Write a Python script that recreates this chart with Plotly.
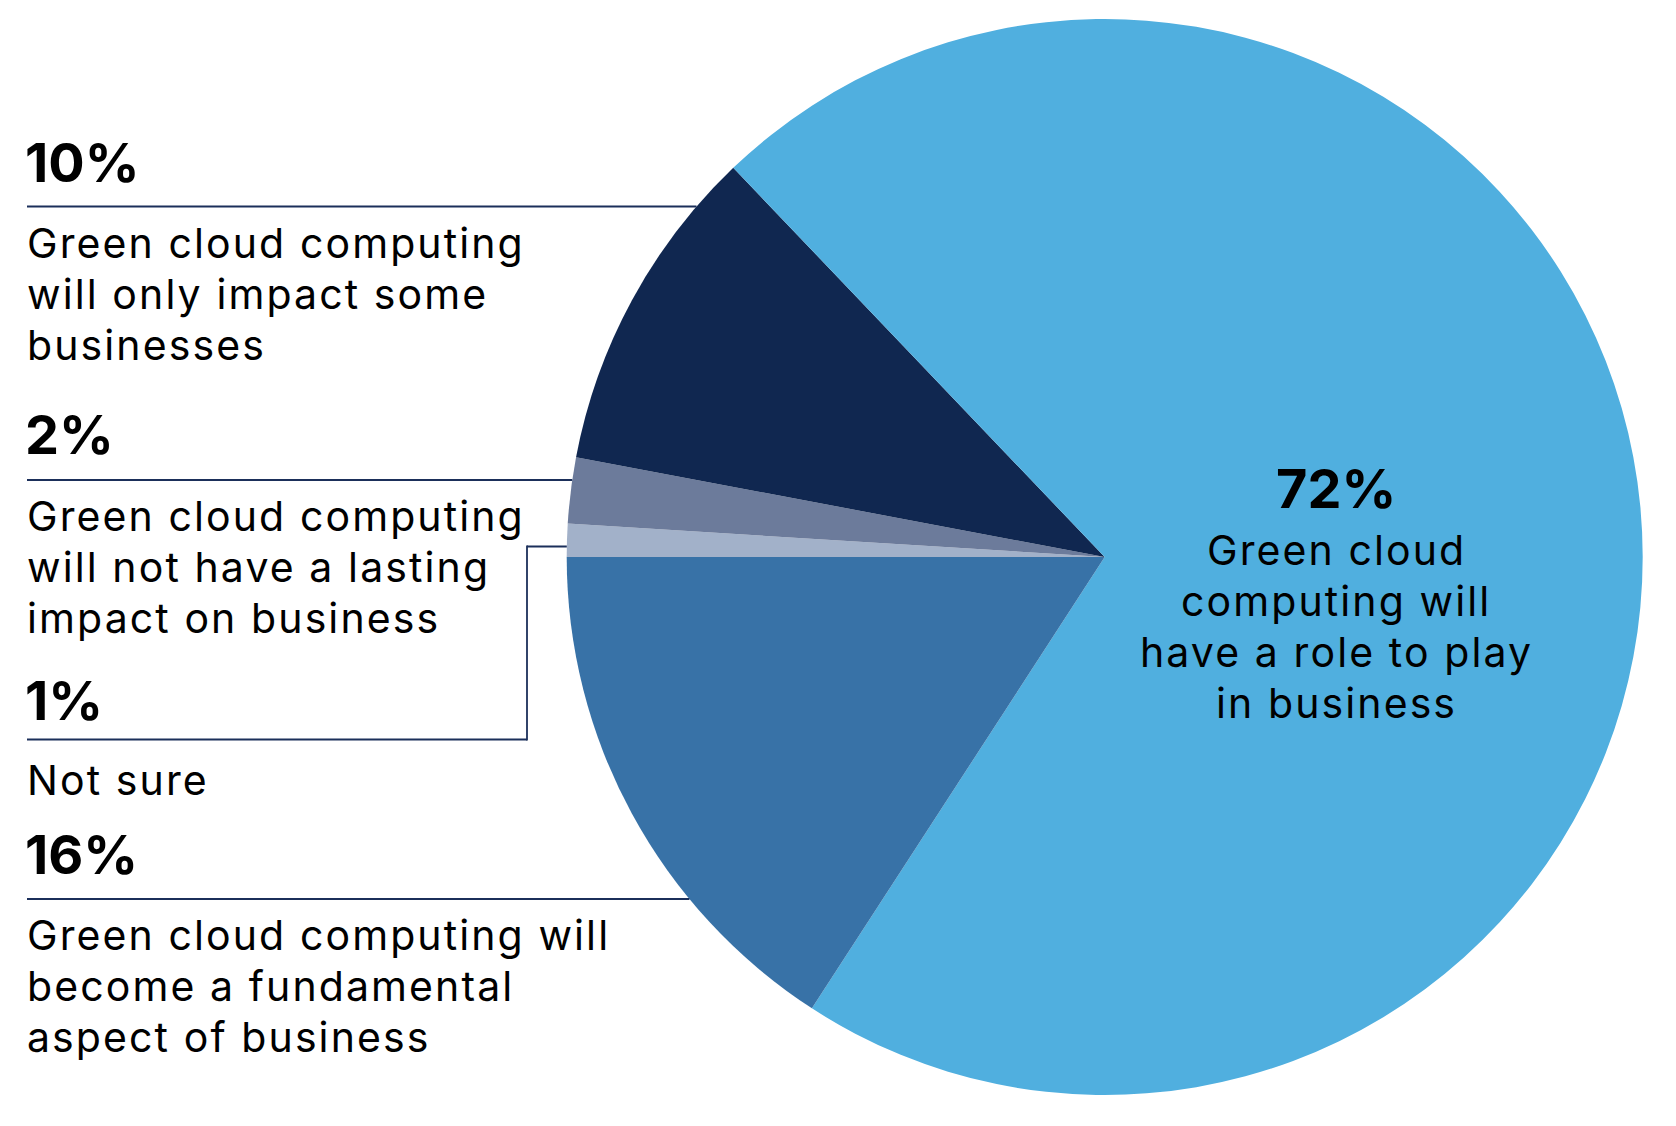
import math
import plotly.graph_objects as go

# ---------------- data ----------------
labels = [
    "Not sure",
    "Green cloud computing will not have a lasting impact on business",
    "Green cloud computing will only impact some businesses",
    "Green cloud computing will have a role to play in business",
    "Green cloud computing will become a fundamental aspect of business",
]
values = [1, 2, 10, 72, 16]
pct_text = ["1%", "2%", "10%", "72%", "16%"]
label_lines = [
    ["Not sure"],
    ["Green cloud computing", "will not have a lasting", "impact on business"],
    ["Green cloud computing", "will only impact some", "businesses"],
    ["Green cloud", "computing will", "have a role to play", "in business"],
    ["Green cloud computing will", "become a fundamental", "aspect of business"],
]
colors = ["#A2B1C9", "#6C7B9B", "#102750", "#50AFDF", "#3872A7"]

W, H = 1676, 1126
FONT = "Inter"
LINE_COLOR = "#1B2F5A"

# pie geometry (pixels)
cx, cy, R = 1104.7, 557.0, 538.0
dom_x = [(cx - R) / W, (cx + R) / W]
dom_y = [1 - (cy + R) / H, 1 - (cy - R) / H]

fig = go.Figure(go.Pie(
    labels=labels, values=values, sort=False, direction="clockwise",
    rotation=-90, marker=dict(colors=colors, line=dict(width=0)),
    textinfo="none", hoverinfo="label+percent", domain=dict(x=dom_x, y=dom_y),
    showlegend=False,
))

def px(x):
    return x / W

def py(y):
    return 1 - y / H

def edge_x(y):
    return cx - math.sqrt(R * R - (y - cy) ** 2)

shapes = []
def seg(xa, ya, xb, yb):
    shapes.append(dict(type="line", xref="paper", yref="paper",
                       x0=px(xa), x1=px(xb), y0=py(ya), y1=py(yb),
                       line=dict(color=LINE_COLOR, width=1.8)))

X0 = 27
seg(X0, 206.5, edge_x(206.5), 206.5)   # 10%
seg(X0, 480.0, edge_x(480.0), 480.0)   # 2%
seg(X0, 739.5, 527, 739.5)             # 1%
seg(527, 740.4, 527, 545.6)
seg(527, 546.5, edge_x(546.5), 546.5)
seg(X0, 899.0, edge_x(899.0), 899.0)   # 16%

ann = []
def text(x, y, s, size, bold=False, anchor="left", spacing=0):
    if spacing:
        s = '<span style="letter-spacing:%.1fpx">%s</span>' % (spacing, s)
    ann.append(dict(xref="paper", yref="paper", x=px(x), y=py(y), text=s,
                    showarrow=False, xanchor=anchor, yanchor="middle",
                    align=anchor if anchor != "center" else "center",
                    font=dict(family=FONT, size=size, color="#000000",
                              weight=700 if bold else 400)))

PS, TS, LS = 54, 41, 2.1
LH = 51

def block(x, y0, lines, anchor="left"):
    for i, ln in enumerate(lines):
        text(x, y0 + i * LH, ln, TS, anchor=anchor, spacing=LS)

XB, XT = 23, 25
text(XB, 162, pct_text[2], PS, True)
block(XT, 243, label_lines[2])
text(XB, 434, pct_text[1], PS, True)
block(XT, 516, label_lines[1])
text(XB, 700, pct_text[0], PS, True)
block(XT, 780, label_lines[0])
text(XB, 854, pct_text[4], PS, True)
block(XT, 935, label_lines[4])
text(1336, 488.5, pct_text[3], PS, True, anchor="center")
block(1336, 549.5, label_lines[3], anchor="center")

fig.update_layout(width=W, height=H, margin=dict(l=0, r=0, t=0, b=0),
                  paper_bgcolor="white", plot_bgcolor="white",
                  shapes=shapes, annotations=ann)
fig.write_html("out.html", config={"displayModeBar": False},
               post_script="document.body.style.margin='0px';")
